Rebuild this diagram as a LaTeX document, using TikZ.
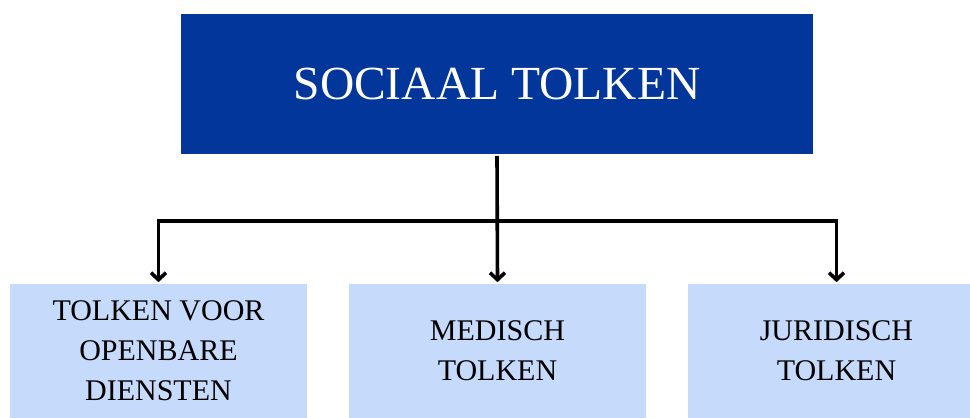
\documentclass[tikz,border=0pt]{standalone}
\usepackage{fontspec}
\setmainfont{Liberation Serif}
\usetikzlibrary{arrows.meta}
\definecolor{topblue}{RGB}{3,54,154}
\definecolor{lightblue}{RGB}{198,218,252}

\tikzset{every picture/.style={line width=3.6pt}}
\tikzset{
	hoofd/.style={fill=topblue, text=white, minimum width=632pt, minimum height=140pt, inner sep=0pt, font=\fontsize{47.5}{52}\selectfont},
	soort/.style={fill=lightblue, text=black, minimum width=297pt, minimum height=134pt, inner sep=0pt, align=center, font=\fontsize{30}{40}\selectfont},
	pijl/.style={-{Straight Barb[length=7pt,width=15pt]}, line join=miter}
}

\begin{document}
\begin{tikzpicture}[x=1pt,y=1pt]
		\useasboundingbox (0,0) rectangle (970,418);
		\node[hoofd] (sociaal) at (497,334) {SOCIAAL TOLKEN};
		\node[soort] (openbaar) at (158.5,67) {TOLKEN VOOR\\OPENBARE\\DIENSTEN};
		\node[soort] (medisch) at (497.5,67) {MEDISCH\\TOLKEN};
		\node[soort] (juridisch) at (836.5,67) {JURIDISCH\\TOLKEN};
		\coordinate (splits) at (497,197);
		\draw[pijl] (sociaal.south) -- (medisch.north);
		\draw[pijl] (splits) -| (openbaar.north);
		\draw[pijl] (splits) -| (juridisch.north);
	\end{tikzpicture}
\end{document}
